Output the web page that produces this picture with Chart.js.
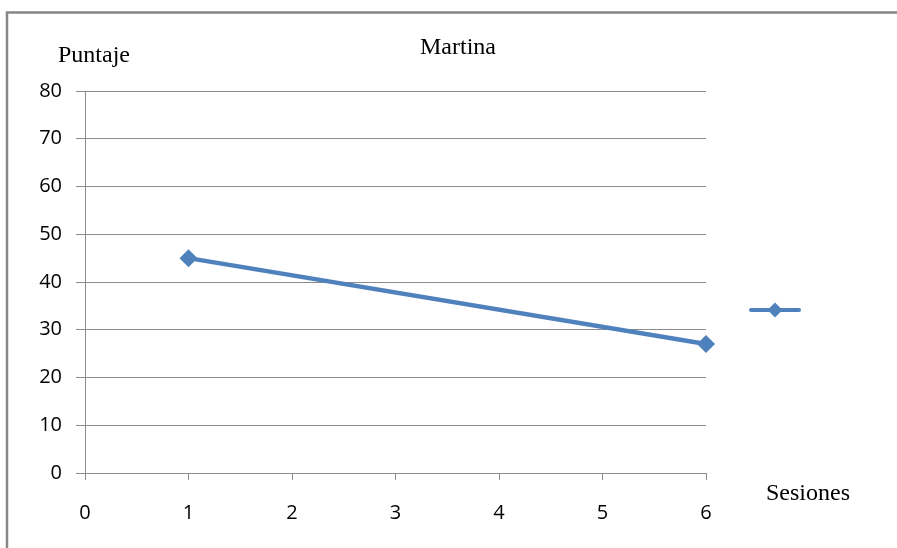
<!DOCTYPE html>
<html>
<head>
<meta charset="utf-8">
<title>Martina</title>
<script src="https://cdn.jsdelivr.net/npm/chart.js@4.4.1/dist/chart.umd.min.js"></script>
<style>
  html, body { margin: 0; padding: 0; background: #ffffff; }
  #wrap { width: 897px; height: 548px; position: relative; }
</style>
</head>
<body>
<div id="wrap"><canvas id="chart" width="897" height="548"></canvas></div>
<script>
// Puntaje por sesión
const sesiones = [1, 6];
const puntaje = [45, 27];
const yTicks = [0, 10, 20, 30, 40, 50, 60, 70, 80];
const xTicks = [0, 1, 2, 3, 4, 5, 6];
const chartTitle = 'Martina';
const yTitle = 'Puntaje';
const xTitle = 'Sesiones';

const BLUE = '#4F81BD';
const GRID = '#8c8c8c';

// Frame, titles and the legend key drawn straight onto the canvas
const decorations = {
  id: 'decorations',
  beforeDraw(chart) {
    const ctx = chart.ctx;
    ctx.save();
    ctx.fillStyle = '#ffffff';
    ctx.fillRect(0, 0, chart.width, chart.height);
    ctx.restore();
  },
  afterDraw(chart) {
    const ctx = chart.ctx;
    ctx.save();
    // outer frame (top and left edges)
    ctx.strokeStyle = '#878787';
    ctx.lineWidth = 2.5;
    ctx.beginPath();
    ctx.moveTo(7, chart.height);
    ctx.lineTo(7, 12.5);
    ctx.lineTo(chart.width, 12.5);
    ctx.stroke();

    // titles
    ctx.fillStyle = '#000000';
    ctx.font = '24px "Liberation Serif", "Times New Roman", serif';
    ctx.textBaseline = 'alphabetic';
    ctx.textAlign = 'center';
    ctx.fillText(chartTitle, 458, 54);
    ctx.textAlign = 'left';
    ctx.fillText(yTitle, 58, 62);
    ctx.fillText(xTitle, 766, 500);

    // legend key: line with diamond marker
    const ly = 310;
    ctx.strokeStyle = BLUE;
    ctx.lineWidth = 4;
    ctx.lineCap = 'round';
    ctx.beginPath();
    ctx.moveTo(751, ly);
    ctx.lineTo(799, ly);
    ctx.stroke();
    ctx.fillStyle = BLUE;
    const r = 7.5;
    ctx.beginPath();
    ctx.moveTo(775, ly - r);
    ctx.lineTo(775 + r, ly);
    ctx.lineTo(775, ly + r);
    ctx.lineTo(775 - r, ly);
    ctx.closePath();
    ctx.fill();
    ctx.restore();
  }
};

const tickFont = { family: '"Open Sans", "DejaVu Sans", sans-serif', size: 20 };

new Chart(document.getElementById('chart'), {
  type: 'scatter',
  data: {
    datasets: [{
      data: sesiones.map((s, i) => ({ x: s, y: puntaje[i] })),
      showLine: true,
      clip: false,
      borderColor: BLUE,
      backgroundColor: BLUE,
      borderWidth: 4.5,
      pointStyle: 'rectRot',
      pointRadius: 9,
      pointBorderWidth: 0,
      pointBackgroundColor: BLUE,
      tension: 0
    }]
  },
  options: {
    responsive: false,
    animation: false,
    devicePixelRatio: 1,
    layout: { padding: { left: 0, right: 191, top: 91, bottom: 0 } },
    plugins: {
      legend: { display: false },
      tooltip: { enabled: false },
      title: { display: false }
    },
    scales: {
      x: {
        type: 'linear',
        min: 0,
        max: 6,
        afterBuildTicks(scale) { scale.ticks = xTicks.map(v => ({ value: v })); },
        afterFit(scale) { scale.height = 75; },
        border: { display: true, color: GRID, width: 1 },
        grid: { drawOnChartArea: false, drawTicks: true, tickLength: 7, color: GRID },
        ticks: { font: tickFont, color: '#000000', padding: 21, maxRotation: 0 }
      },
      y: {
        type: 'linear',
        min: 0,
        max: 80,
        afterBuildTicks(scale) { scale.ticks = yTicks.map(v => ({ value: v })); },
        afterFit(scale) { scale.width = 85; },
        border: { display: true, color: GRID, width: 1 },
        grid: { drawOnChartArea: true, drawTicks: true, tickLength: 9, color: GRID },
        ticks: { font: tickFont, color: '#000000', padding: 14 }
      }
    }
  },
  plugins: [decorations]
});
</script>
</body>
</html>
